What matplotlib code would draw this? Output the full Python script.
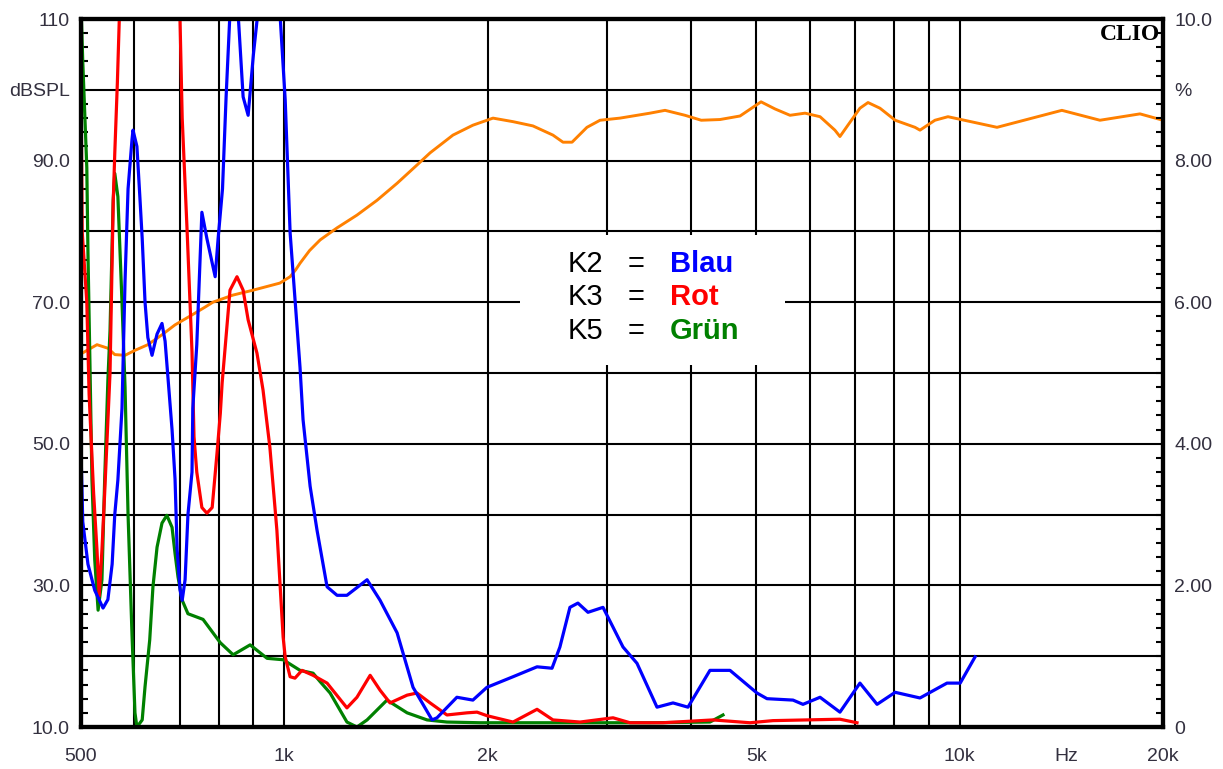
import matplotlib.pyplot as plt
from matplotlib.ticker import MultipleLocator, FixedLocator, NullLocator
from matplotlib.patches import Rectangle

# Frequenzgang (dBSPL, linke Achse)
spl_hz = [500, 502, 528, 548, 561, 581, 601, 628, 659, 689, 730, 763, 784, 839, 899,
          985, 1020, 1040, 1055, 1090, 1130, 1197, 1281, 1372, 1469, 1573, 1644, 1777,
          1902, 2037, 2181, 2334, 2499, 2586, 2667, 2806, 2934, 3140, 3479, 3662, 3920,
          4143, 4416, 4729, 5080, 5327, 5607, 5902, 6212, 6535, 6648, 6831, 7117, 7316,
          7620, 8026, 8587, 8734, 9191, 9608, 11357, 14168, 16132, 18490, 20000]
spl_db = [63.0, 62.8, 64.0, 63.5, 62.6, 62.5, 63.2, 64.0, 65.4, 66.8, 68.2, 69.3, 70.0,
          71.0, 71.7, 72.7, 73.6, 74.6, 75.5, 77.3, 78.8, 80.5, 82.3, 84.4, 86.8, 89.4,
          91.1, 93.6, 95.0, 96.0, 95.5, 94.9, 93.6, 92.6, 92.6, 94.7, 95.7, 96.0, 96.7,
          97.1, 96.4, 95.7, 95.8, 96.3, 98.3, 97.3, 96.4, 96.7, 96.2, 94.3, 93.4, 95.0,
          97.4, 98.2, 97.4, 95.7, 94.7, 94.3, 95.7, 96.2, 94.7, 97.1, 95.7, 96.6, 95.7]

# K2 (Blau, %)
k2_hz = [500, 503, 512, 524, 539, 548, 556, 561, 567, 575, 581, 587, 595, 597, 605, 611,
         616, 622, 628, 637, 648, 659, 666, 673, 682, 689, 694, 701, 706, 713, 720, 730,
         732, 742, 755, 768, 790, 798, 810, 820, 831, 842, 854, 869, 884, 900, 914, 950,
         985, 1003, 1020, 1055, 1066, 1092, 1118, 1157, 1197, 1238, 1326, 1386, 1469,
         1551, 1655, 1683, 1801, 1902, 1995, 2181, 2367, 2491, 2559, 2648, 2721, 2816,
         2964, 3067, 3173, 3328, 3563, 3763, 3960, 4268, 4570, 5010, 5184, 5665, 5861,
         6212, 6648, 7117, 7545, 8026, 8734, 9576, 10017, 10538]
k2_pct = [3.9, 2.9, 2.3, 1.93, 1.68, 1.8, 2.3, 3.0, 3.49, 4.5, 6.3, 7.6, 8.3, 8.43, 8.2,
          7.5, 6.9, 6.0, 5.5, 5.25, 5.55, 5.7, 5.45, 4.9, 4.2, 3.5, 2.5, 1.93, 1.79, 2.08,
          3.0, 3.6, 4.5, 5.4, 7.27, 6.9, 6.36, 6.9, 7.6, 8.9, 10.1, 11.5, 10.1, 8.9, 8.64,
          9.5, 10.1, 12.0, 10.1, 8.86, 6.98, 5.08, 4.34, 3.4, 2.78, 1.98, 1.86, 1.86, 2.08,
          1.79, 1.33, 0.56, 0.10, 0.13, 0.42, 0.38, 0.56, 0.71, 0.85, 0.83, 1.13, 1.69,
          1.75, 1.62, 1.69, 1.41, 1.13, 0.9, 0.28, 0.34, 0.28, 0.8, 0.8, 0.48, 0.4, 0.38,
          0.32, 0.42, 0.21, 0.62, 0.32, 0.49, 0.41, 0.62, 0.62, 0.99]

# K3 (Rot, %)
k3_hz = [500, 502, 510, 514, 522, 528, 532, 537, 542, 552, 558, 561, 566, 571, 630, 700,
         706, 718, 730, 735, 742, 755, 768, 782, 795, 804, 809, 831, 851, 869, 884, 911,
         930, 952, 975, 996, 1003, 1020, 1037, 1062, 1103, 1157, 1238, 1281, 1340, 1386,
         1434, 1520, 1572, 1644, 1741, 1864, 1929, 1995, 2181, 2367, 2499, 2741, 3067,
         3250, 3637, 4312, 4892, 5291, 6648, 7046]
k3_pct = [9.1, 7.0, 6.0, 4.7, 3.3, 2.5, 1.85, 2.5, 3.3, 5.0, 7.4, 8.1, 9.1, 10.3, 13.0,
          10.2, 8.6, 7.0, 5.3, 4.1, 3.6, 3.1, 3.02, 3.1, 3.87, 4.43, 4.86, 6.17, 6.36,
          6.17, 5.75, 5.28, 4.76, 3.95, 2.78, 1.27, 0.99, 0.71, 0.69, 0.8, 0.73, 0.62,
          0.27, 0.42, 0.73, 0.52, 0.34, 0.45, 0.48, 0.34, 0.17, 0.2, 0.21, 0.16, 0.07,
          0.25, 0.1, 0.07, 0.13, 0.06, 0.06, 0.1, 0.06, 0.09, 0.11, 0.06]

# K5 (Gruen, %)
k5_hz = [500, 503, 510, 512, 516, 519, 524, 530, 537, 542, 548, 552, 558, 561, 567, 575,
         581, 587, 595, 601, 605, 616, 622, 632, 639, 648, 659, 670, 682, 689, 696, 706,
         720, 758, 804, 840, 890, 943, 996, 1055, 1103, 1130, 1169, 1238, 1281, 1326,
         1419, 1520, 1627, 1741, 1948, 2475, 3479, 4268, 4462]
k5_pct = [10.2, 9.4, 7.9, 6.7, 4.9, 3.5, 2.36, 1.65, 2.08, 3.49, 4.9, 5.6, 7.44, 7.82,
          7.49, 6.0, 4.8, 3.0, 1.3, 0.2, 0.0, 0.1, 0.57, 1.23, 1.98, 2.54, 2.88, 2.99,
          2.82, 2.45, 2.12, 1.79, 1.6, 1.52, 1.19, 1.02, 1.16, 0.97, 0.95, 0.8, 0.76,
          0.64, 0.48, 0.07, 0.0, 0.1, 0.38, 0.2, 0.1, 0.07, 0.06, 0.06, 0.06, 0.07, 0.17]

x_ticks = [500, 1000, 2000, 5000, 10000, 14400, 20000]
x_labels = ['500', '1k', '2k', '5k', '10k', 'Hz', '20k']
x_grid = [600, 700, 800, 900, 1000, 2000, 3000, 4000, 5000, 6000, 7000, 8000, 9000, 10000]
l_ticks = [10, 30, 50, 70, 90, 100, 110]
l_labels = ['10.0', '30.0', '50.0', '70.0', '90.0', 'dBSPL', '110']
r_ticks = [0, 2, 4, 6, 8, 9, 10]
r_labels = ['0', '2.00', '4.00', '6.00', '8.00', '%', '10.0']

plt.rcParams['font.family'] = ['Liberation Sans', 'DejaVu Sans']
lab_col = '#33303f'

fig = plt.figure(figsize=(12.23, 7.69), dpi=100)
ax = fig.add_axes([81 / 1223, 42 / 769, 1082 / 1223, 708 / 769])
ax2 = ax.twinx()

ax.set_xscale('log')
ax.set_xlim(500, 20000)
ax.set_ylim(10, 110)
ax2.set_ylim(0, 10)

# Gitter
for f in x_grid:
    ax.axvline(f, color='black', lw=1.5, zorder=1)
for d in range(20, 110, 10):
    ax.axhline(d, color='black', lw=1.5, zorder=1)

# weisses Feld fuer die Legende
ax.add_patch(Rectangle((0.4057, 0.512), 0.245, 0.183, transform=ax.transAxes,
                       facecolor='white', edgecolor='none', zorder=2))

ax.plot(spl_hz, spl_db, color='#ff8000', lw=2.1, zorder=3)
ax2.plot(k5_hz, k5_pct, color='#008000', lw=2.3)
ax2.plot(k3_hz, k3_pct, color='#ff0000', lw=2.3)
ax2.plot(k2_hz, k2_pct, color='#0000ff', lw=2.3)

# Achsen
ax.xaxis.set_major_locator(FixedLocator(x_ticks))
ax.xaxis.set_minor_locator(NullLocator())
ax.set_xticklabels(x_labels)
ax.tick_params(axis='x', which='major', length=0, pad=15, labelsize=14, labelcolor=lab_col)

ax.set_yticks(l_ticks)
ax.set_yticklabels(l_labels)
ax.yaxis.set_minor_locator(MultipleLocator(2))
ax.tick_params(axis='y', which='major', length=0, pad=8, labelsize=14, labelcolor=lab_col)
ax.tick_params(axis='y', which='minor', direction='in', length=5, width=1.5, color='black')

ax2.set_yticks(r_ticks)
ax2.set_yticklabels(r_labels)
ax2.yaxis.set_minor_locator(MultipleLocator(0.2))
ax2.tick_params(axis='y', which='major', length=0, pad=8, labelsize=14, labelcolor=lab_col)
ax2.tick_params(axis='y', which='minor', direction='in', length=5, width=1.5, color='black')

for a in (ax, ax2):
    for s in a.spines.values():
        s.set_linewidth(3)
        s.set_color('black')

# Legende
rows = [('K2', 'Blau', '#0000ff'), ('K3', 'Rot', '#ff0000'), ('K5', 'Grün', '#008000')]
base_y = [0.6427, 0.596, 0.548]
for (k, name, col), yy in zip(rows, base_y):
    ax2.text(0.450, yy, k, transform=ax.transAxes, fontsize=21, va='baseline', color='black')
    ax2.text(0.513, yy, '=', transform=ax.transAxes, fontsize=21, va='baseline',
             ha='center', color='black')
    ax2.text(0.544, yy, name, transform=ax.transAxes, fontsize=21, va='baseline',
             color=col, fontweight='bold')

ax2.text(0.997, 0.993, 'CLIO', transform=ax.transAxes, ha='right', va='top',
         fontsize=17, fontweight='bold', family='Liberation Serif')

fig.savefig('out.png', dpi=100)
